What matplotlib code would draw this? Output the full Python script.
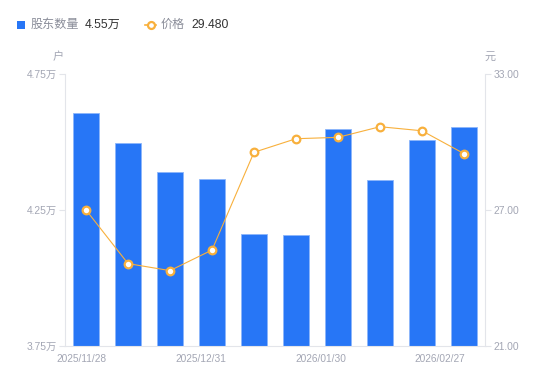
import matplotlib
matplotlib.use("Agg")
import matplotlib.pyplot as plt
from matplotlib.lines import Line2D
from matplotlib.patches import Rectangle

plt.rcParams['font.family'] = ['Liberation Sans', 'Noto Sans CJK SC', 'DejaVu Sans']

dates = ["2025/11/28", "2025/12/10", "2025/12/19", "2025/12/31", "2026/01/09",
         "2026/01/20", "2026/01/30", "2026/02/10", "2026/02/13", "2026/02/27"]
holders = [4.605, 4.495, 4.39, 4.362, 4.161, 4.156, 4.546, 4.358, 4.506, 4.555]  # 万户
prices = [26.99, 24.62, 24.31, 25.22, 29.54, 30.14, 30.20, 30.67, 30.49, 29.48]  # 元
shown_idx = [0, 3, 6, 9]
left_ticks = [3.75, 4.25, 4.75]
right_ticks = [21.0, 27.0, 33.0]

BLUE = "#2776F6"
EDGE = "#8DB6FA"
ORANGE = "#F8B03C"
GRAY = "#A3A6B4"
AXIS = "#E3E5EA"

fig = plt.figure(figsize=(5.5, 3.81), dpi=100)
ax = fig.add_axes([65/550, 35.5/381, 420/550, 271.5/381])
ax2 = ax.twinx()

x = list(range(len(dates)))
ax.bar(x, holders, width=0.6, bottom=0, color=BLUE, edgecolor=EDGE, linewidth=0.6, zorder=2)
ax.set_xlim(-0.5, len(dates) - 0.5)
ax.set_ylim(left_ticks[0], left_ticks[-1])
ax.set_yticks(left_ticks)
ax.set_yticklabels([f"{v:.2f}万" for v in left_ticks])

ax2.plot(x, prices, color=ORANGE, linewidth=0.8, marker='o', markersize=5.5,
         markerfacecolor='white', markeredgecolor=ORANGE, markeredgewidth=1.6, zorder=3)
ax2.set_ylim(right_ticks[0], right_ticks[-1])
ax2.set_yticks(right_ticks)
ax2.set_yticklabels([f"{v:.2f}" for v in right_ticks])

# x tick labels (evenly spaced like the source chart)
pos = [-0.1 + i * (8.53 / 9) for i in shown_idx]
ax.set_xticks(pos)
ax.set_xticklabels([dates[i] for i in shown_idx])
ax.tick_params(axis='x', length=0, pad=6, labelsize=7.3, labelcolor=GRAY)
ax.tick_params(axis='y', length=4, width=0.8, color=AXIS, labelsize=7.4, labelcolor=GRAY, pad=2)
ax2.tick_params(axis='y', length=4, width=0.8, color=AXIS, labelsize=7.4, labelcolor=GRAY, pad=2)

for a in (ax, ax2):
    for s in a.spines.values():
        s.set_visible(False)
ax.spines['left'].set_visible(True)
ax.spines['left'].set_color(AXIS)
ax.spines['bottom'].set_visible(True)
ax.spines['bottom'].set_color(AXIS)
ax2.spines['right'].set_visible(True)
ax2.spines['right'].set_color(AXIS)

# unit labels
fig.text(58/550, 1 - 57/381, "户", fontsize=8, color=GRAY, ha='center', va='center')
fig.text(490/550, 1 - 57/381, "元", fontsize=8, color=GRAY, ha='center', va='center')

# legend
fig.patches.append(Rectangle((17/550, 1 - 28.5/381), 8/550, 8/381, transform=fig.transFigure,
                             facecolor=BLUE, edgecolor='none'))
fig.text(31/550, 1 - 24.5/381, "股东数量", fontsize=8.7, color="#8A8D99", ha='left', va='center')
fig.text(85/550, 1 - 24.5/381, f"{holders[-1]:.2f}万", fontsize=8.7, color="#333333", ha='left', va='center')
fig.lines.append(Line2D([145/550, 156/550], [1 - 24.5/381, 1 - 24.5/381], transform=fig.transFigure,
                        color=ORANGE, linewidth=1.2))
fig.lines.append(Line2D([150.5/550], [1 - 24.5/381], transform=fig.transFigure, color=ORANGE,
                        marker='o', markersize=5, markerfacecolor='white', markeredgewidth=1.6))
fig.text(161/550, 1 - 24.5/381, "价格", fontsize=8.7, color="#8A8D99", ha='left', va='center')
fig.text(191/550, 1 - 24.5/381, f"{prices[-1]:.3f}", fontsize=8.7, color="#333333", ha='left', va='center')

fig.savefig("out.png", dpi=100)
